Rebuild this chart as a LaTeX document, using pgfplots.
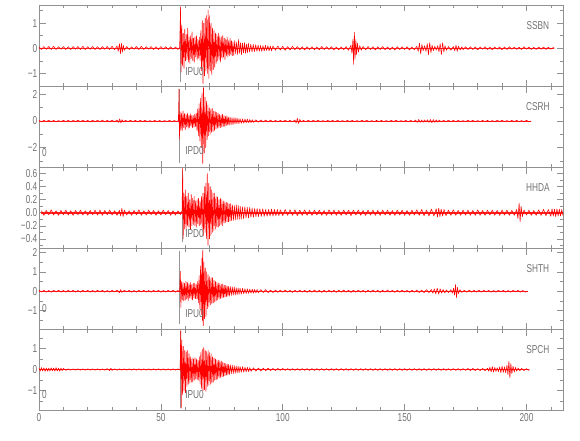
\documentclass[border=0pt]{standalone}
\usepackage{fontspec}
\setmainfont[FakeStretch=0.72]{Liberation Sans}
\usepackage{pgfplots}
\pgfplotsset{compat=1.18}
\definecolor{txt}{RGB}{115,115,115}
\definecolor{axc}{RGB}{145,145,145}
\definecolor{pick}{RGB}{150,150,150}
\newcommand{\lab}{\fontsize{11.5}{12}\selectfont}
\tikzset{
 stn/.style={font=\lab, text=txt},
 ph/.style={font=\lab, text=txt, anchor=west, inner sep=0pt},
}
\pgfplotsset{
 seis/.style={
  scale only axis, width=524pt, height=81pt,
  xmin=0, xmax=215,
  axis line style={axc, line width=0.5pt},
  tick style={axc, line width=0.5pt},
  major tick length=6.5pt, minor tick length=3.5pt,
  tick align=inside,
  xtick pos=both, ytick pos=both,
  xtick={0,50,100,150,200},
  minor xtick={10,20,30,40,60,70,80,90,110,120,130,140,160,170,180,190,210},
  xticklabels={},
  ticklabel style={font=\lab, text=txt},
  yticklabel style={inner sep=1.5pt},
  anchor=south west,
  clip=true,
 },
 trace/.style={red, line width=0.55pt, mark=none, line join=round},
 base/.style={red!85, line width=1.3pt, mark=none},
 pk/.style={pick, line width=0.6pt, mark=none},
}
\begin{document}
\begin{tikzpicture}
% ---------------- SSBN ----------------
\begin{axis}[seis, at={(0pt,324pt)}, ymin=-1.50, ymax=1.72,
  ytick={-1,0,1}, yticklabels={−1,0,1}, minor ytick={-1.5,-0.5,0.5,1.5}]
\addplot[pk] coordinates {(57.9,-1.36)(57.9,1.65)};
\addplot[base] coordinates {(0,0)(211.5,0)};
\addplot[trace] coordinates {(0,.06)(1,-.05)(2,.07)(3,-.04)(4,.07)(5,-.05)(6,.08)(7,-.05)(8,.06)(9,-.04)(10,.07)(11,-.05)(12,.06)(13,-.05)(14,.07)(15,-.04)(16,.07)(17,-.05)(18,.08)(19,-.05)(20,.06)(21,-.04)(22,.07)(23,-.05)(24,.06)(25,-.05)(26,.07)(27,-.04)(28,.07)(29,-.05)(30,.08)(31,-.06)(32,.09)
(32.5,-.12)(33,.18)(33.4,-.22)(33.8,.2)(34.2,-.16)(34.6,.12)(35,-.08)
(36,.07)(37,-.05)(38,.06)(39,-.04)(40,.07)(41,-.05)(42,.08)(43,-.05)(44,.06)(45,-.04)(46,.07)(47,-.05)(48,.06)(49,-.05)(50,.07)(51,-.04)(52,.06)(53,-.05)(54,.06)(55,-.04)(56,.05)(57,-.05)(57.7,.04)
(58.1,1.65)(58.3,-.95)(58.6,.9)(58.9,-.7)(59.2,.6)(59.5,-.8)(59.8,.75)(60.1,-.5)(60.4,.55)(60.7,-.45)(61,.8)(61.3,-.55)(61.6,.45)(61.9,-.6)(62.2,.5)(62.5,-.4)(62.8,.65)(63.1,-.5)(63.4,.4)(63.7,-.55)(64,.45)(64.3,-.35)(64.6,.5)(64.9,-.45)(65.2,.35)(65.5,-.4)(65.8,.45)(66.1,-.5)(66.4,.7)(66.7,-.9)(67,1.1)(67.3,-1.4)(67.6,1.0)(67.9,-1.1)(68.2,1.2)(68.5,-.9)(68.8,1.3)(69.1,-1.0)(69.4,1.52)(69.7,-1.2)(70,1.3)(70.3,-.9)(70.6,1.0)(70.9,-1.05)(71.2,.8)(71.5,-.85)(71.8,.7)(72.1,-.75)(72.4,.6)(72.7,-.6)(73,.55)(73.3,-.5)(73.6,.6)(73.9,-.45)(74.2,.5)(74.5,-.55)(74.8,.45)(75.1,-.4)(75.4,.5)(75.7,-.35)(76,.4)(76.3,-.45)(76.6,.35)(76.9,-.3)(77.2,.45)(77.5,-.35)(77.8,.3)(78.1,-.3)(78.4,.4)(78.7,-.25)(79,.3)(79.3,-.3)(79.6,.25)(79.9,-.28)(80.3,.3)(80.7,-.22)(81.1,.25)(81.5,-.25)(81.9,.35)(82.3,-.2)(82.7,.22)(83.1,-.25)(83.5,.2)(83.9,-.18)(84.3,.22)(84.7,-.2)(85.1,.17)(85.5,-.18)(85.9,.2)(86.4,-.15)(86.9,.16)(87.4,-.14)(87.9,.15)(88.4,-.13)(88.9,.14)(89.4,-.12)(89.9,.13)(90.4,-.12)(90.9,.11)(91.4,-.12)(91.9,.1)(92.4,-.11)(92.9,.12)(93.4,-.09)(93.9,.1)(94.4,-.1)(94.9,.09)(95.4,-.1)
(96,.09)(97,-.08)(98,.09)(99,-.07)(100,.08)(101,-.08)(102,.07)(103,-.07)(104,.08)(105,-.06)(106,.07)(107,-.06)(108,.06)(109,-.07)(110,.06)(111,-.05)(112,.06)(113,-.06)(114,.05)(115,-.06)(116,.07)(117,-.05)(118,.06)(119,-.05)(120,.06)(121,-.07)(122,.05)(123,-.06)(124,.05)(125,-.06)(126,.07)(127,-.08)(128,.12)(128.4,-.2)(128.8,.35)(129.1,-.64)(129.4,.64)(129.7,-.4)(130,.35)(130.3,-.25)(130.7,.2)(131.1,-.15)(131.6,.1)(132.2,-.08)
(133,.07)(134,-.06)(135,.07)(136,-.05)(137,.06)(138,-.07)(139,.06)(140,-.05)(141,.07)(142,-.06)(143,.05)(144,-.06)(145,.05)(146,-.07)(147,.06)(148,-.05)(149,.06)(150,-.05)(151,.06)(152,-.07)(153,.05)(154,-.06)(155,.08)(155.6,-.12)(156.1,.2)(156.6,-.22)(157.1,.15)(157.6,-.1)(158.2,.1)(158.8,-.12)(159.3,.18)(159.8,-.25)(160.3,.22)(160.8,-.18)(161.3,.12)(161.8,-.1)(162.4,.08)(163,-.07)(163.6,.1)(164.1,-.14)(164.6,.18)(165.1,-.25)(165.6,.22)(166.1,-.15)(166.6,.1)(167.2,-.08)(168,.07)(169,-.08)(170,.07)(170.6,-.1)(171.1,.12)(171.6,-.12)(172.1,.09)(172.8,-.07)(173.5,.06)
(174,-.06)(175,.06)(176,-.05)(177,.06)(178,-.05)(179,.05)(180,-.06)(181,.05)(182,-.04)(183,.06)(184,-.05)(185,.05)(186,-.06)(187,.05)(188,-.04)(189,.05)(190,-.06)(191,.05)(192,-.05)(193,.06)(194,-.04)(195,.05)(196,-.05)(197,.04)(198,-.05)(199,.06)(200,-.04)(201,.05)(202,-.05)(203,.04)(204,-.05)(205,.05)(206,-.04)(207,.05)(208,-.05)(209,.04)(210,-.04)(211,.03)(211.5,0)};
\node[stn] at (rel axis cs:0.952,0.75) {SSBN};
\node[ph] at (rel axis cs:0.279,0.18) {IPU0};
\end{axis}
% ---------------- CSRH ----------------
\begin{axis}[seis, at={(0pt,243pt)}, ymin=-3.45, ymax=2.63,
  ytick={-2,0,2}, yticklabels={−2,0,2}, minor ytick={-3,-1,1}]
\addplot[pk] coordinates {(57.4,-3.18)(57.4,2.4)};
\addplot[base, line width=1.0pt] coordinates {(0,0)(202,0)};
\addplot[trace] coordinates {(0,.05)(1,-.06)(2,.05)(3,-.04)(4,.06)(5,-.05)(6,.05)(7,-.06)(8,.04)(9,-.05)(10,.06)(11,-.04)(12,.05)(13,-.06)(14,.05)(15,-.04)(16,.06)(17,-.05)(18,.07)(19,-.06)(20,.05)(21,-.07)(22,.06)(23,-.05)(24,.06)(25,-.05)(26,.07)(27,-.06)(28,.05)(29,-.06)(30,.07)(31,-.06)(32,.08)(32.6,-.1)(33.1,.16)(33.6,-.14)(34.1,.1)(34.7,-.07)(35.5,.06)(36.5,-.05)(37.5,.06)(38.5,-.05)(39.5,.05)(40.5,-.06)(41.5,.05)(42.5,-.04)(43.5,.05)(44.5,-.05)(45.5,.04)(46.5,-.05)(47.5,.05)(48.5,-.04)(49.5,.05)(50.5,-.05)(51.5,.04)(52.5,-.04)(53.5,.05)(54.5,-.04)(55.5,.04)(56.5,-.04)(57.2,.03)
(57.45,2.4)(57.6,-1.35)(57.9,.7)(58.2,-.75)(58.5,.6)(58.8,-.7)(59.1,.75)(59.4,-.5)(59.7,.55)(60,-.65)(60.3,.5)(60.6,-.45)(60.9,.6)(61.2,-.55)(61.5,.45)(61.8,-.5)(62.1,.55)(62.4,-.4)(62.7,.45)(63,-.5)(63.3,.4)(63.6,-.45)(63.9,.5)(64.2,-.4)(64.5,.6)(64.8,-.7)(65.1,.9)(65.4,-1.1)(65.7,1.3)(66,-1.5)(66.3,1.7)(66.6,-2.0)(66.9,2.1)(67.2,-3.2)(67.5,2.5)(67.8,-2.4)(68.1,1.8)(68.4,-2.0)(68.7,1.5)(69,-1.4)(69.3,1.2)(69.6,-1.1)(69.9,1.0)(70.2,-1.0)(70.5,.9)(70.8,-.85)(71.1,.95)(71.4,-.8)(71.7,.75)(72,-.7)(72.3,.7)(72.6,-.6)(72.9,.65)(73.2,-.55)(73.5,.6)(73.8,-.5)(74.1,.5)(74.4,-.5)(74.7,.45)(75,-.45)(75.3,.5)(75.6,-.4)(75.9,.4)(76.2,-.4)(76.5,.35)(76.8,-.35)(77.1,.4)(77.4,-.3)(77.7,.3)(78,-.32)(78.4,.3)(78.8,-.28)(79.2,.25)(79.6,-.27)(80,.25)(80.4,-.22)(80.8,.24)(81.2,-.2)(81.6,.2)(82,-.2)(82.5,.18)(83,-.17)(83.5,.16)(84,-.15)(84.5,.15)(85,-.13)(85.5,.14)(86,-.12)(86.5,.12)(87,-.12)(87.5,.1)(88,-.1)(89,.09)(90,-.08)(91,.08)(92,-.07)(93,.07)(94,-.06)(95,.07)(96,-.06)(97,.05)(98,-.06)(99,.05)(100,-.05)(101,.06)(102,-.05)(103,.05)(104,-.06)(105,.08)(105.5,-.15)(106,.2)(106.5,-.18)(107,.12)(107.6,-.07)
(108.5,.05)(109.5,-.05)(110.5,.06)(111.5,-.05)(112.5,.05)(113.5,-.04)(114.5,.05)(115.5,-.05)(116.5,.04)(117.5,-.05)(118.5,.05)(119.5,-.04)(120.5,.05)(121.5,-.05)(122.5,.06)(123.5,-.05)(124.5,.04)(125.5,-.05)(126.5,.05)(127.5,-.04)(128.5,.05)(129.5,-.05)(130.5,.04)(131.5,-.05)(132.5,.05)(133.5,-.04)(134.5,.05)(135.5,-.05)(136.5,.04)(137.5,-.05)(138.5,.05)(139.5,-.04)(140.5,.05)(141.5,-.05)(142.5,.04)(143.5,-.05)(144.5,.05)(145.5,-.04)(146.5,.05)(147.5,-.05)(148.5,.04)(149.5,-.05)(150.5,.05)(151.5,-.06)(152.5,.05)(153.5,-.06)(154.5,.07)(155.2,-.1)(155.8,.12)(156.4,-.1)(157,.08)(157.6,-.09)(158.2,.08)(158.8,-.07)(159.4,.09)(160,-.1)(160.6,.12)(161.2,-.13)(161.8,.11)(162.4,-.1)(163,.09)(163.6,-.08)(164.2,.07)
(165,-.06)(166,.05)(167,-.05)(168,.06)(169,-.05)(170,.05)(171,-.04)(172,.05)(173,-.05)(174,.04)(175,-.05)(176,.05)(177,-.04)(178,.05)(179,-.05)(180,.04)(181,-.05)(182,.05)(183,-.04)(184,.05)(185,-.05)(186,.04)(187,-.05)(188,.05)(189,-.04)(190,.05)(191,-.05)(192,.04)(193,-.05)(194,.05)(195,-.04)(196,.05)(197,-.05)(198,.04)(199,-.05)(200,.05)(201,-.04)(202,0)};
\node[stn] at (rel axis cs:0.952,0.75) {CSRH};
\node[ph] at (rel axis cs:0.279,0.20) {IPD0};
\node[stn, inner sep=0pt] at (rel axis cs:0.0105,0.18) {0};
\end{axis}
% ---------------- HHDA ----------------
\begin{axis}[seis, at={(0pt,162pt)}, ymin=-0.54, ymax=0.70,
  ytick={-0.4,-0.2,0,0.2,0.4,0.6}, yticklabels={−0.4,−0.2,0.0,0.2,0.4,0.6},
  minor ytick={-0.5,-0.3,-0.1,0.1,0.3,0.5}]
\addplot[pk] coordinates {(58.9,-0.45)(58.9,0.66)};
\addplot[base, line width=1.8pt] coordinates {(1,0)(215,0)};
\addplot[trace] coordinates {(1,.03)(2,-.04)(3,.035)(4,-.03)(5,.045)(6,-.035)(7,.03)(8,-.04)(9,.035)(10,-.03)(11,.04)(12,-.035)(13,.03)(14,-.04)(15,.035)(16,-.03)(17,.04)(18,-.035)(19,.03)(20,-.04)(21,.035)(22,-.03)(23,.04)(24,-.035)(25,.04)(26,-.04)(27,.035)(28,-.03)(29,.04)(30,-.035)(31,.03)(32,-.04)(33,.035)(33.5,-.05)(34,.07)(34.5,-.06)(35,.04)(36,-.035)(37,.03)(38,-.04)(39,.035)(40,-.03)(41,.045)(42,-.04)(43,.03)(44,-.035)(45,.04)(46,-.03)(47,.035)(48,-.04)(49,.03)(50,-.035)(51,.04)(52,-.03)(53,.035)(54,-.04)(55,.03)(56,-.035)(57,.03)(58,-.03)(58.7,.03)
(58.95,.68)(59.15,-.4)(59.45,.3)(59.75,-.25)(60.05,.35)(60.35,-.27)(60.65,.25)(60.95,-.2)(61.25,.3)(61.55,-.22)(61.85,.2)(62.15,-.25)(62.45,.28)(62.75,-.2)(63.05,.22)(63.35,-.18)(63.65,.25)(63.95,-.2)(64.25,.18)(64.55,-.22)(64.85,.2)(65.15,-.17)(65.45,.22)(65.75,-.2)(66.05,.18)(66.35,-.18)(66.65,.25)(66.95,-.25)(67.25,.3)(67.55,-.35)(67.85,.4)(68.15,-.3)(68.45,.45)(68.75,-.4)(69.05,.6)(69.35,-.5)(69.65,.45)(69.95,-.4)(70.25,.4)(70.55,-.35)(70.85,.35)(71.15,-.3)(71.45,.3)(71.75,-.28)(72.05,.3)(72.35,-.25)(72.65,.25)(72.95,-.22)(73.25,.24)(73.55,-.22)(73.85,.2)(74.15,-.2)(74.45,.22)(74.75,-.18)(75.05,.2)(75.35,-.2)(75.65,.18)(75.95,-.16)(76.25,.17)(76.55,-.15)(76.85,.16)(77.15,-.14)(77.45,.15)(77.75,-.14)(78.05,.13)(78.35,-.13)(78.65,.14)(78.95,-.12)(79.35,.12)(79.75,-.12)(80.15,.11)(80.55,-.11)(80.95,.12)(81.35,-.1)(81.75,.11)(82.15,-.1)(82.55,.1)(82.95,-.1)(83.45,.09)(83.95,-.09)(84.45,.09)(84.95,-.08)(85.45,.08)(85.95,-.08)(86.45,.08)(86.95,-.07)(87.45,.07)(87.95,-.07)(88.5,.065)(89,-.06)(89.5,.065)(90,-.06)(90.6,.06)(91.2,-.055)(91.8,.06)(92.4,-.055)(93,.05)(93.6,-.055)(94.2,.05)(94.8,-.05)(95.4,.055)(96,-.05)(96.6,.05)(97.2,-.045)(97.8,.05)(98.4,-.045)(99,.045)
(100,-.045)(101,.05)(102,-.04)(103,.045)(104,-.04)(105,.045)(106,-.045)(107,.04)(108,-.04)(109,.045)(110,-.04)(111,.035)(112,-.04)(113,.04)(114,-.035)(115,.04)(116,-.04)(117,.035)(118,-.04)(119,.045)(120,-.035)(121,.04)(122,-.04)(123,.035)(124,-.04)(125,.04)(126,-.035)(127,.04)(128,-.045)(129,.04)(130,-.035)(131,.04)(132,-.04)(133,.035)(134,-.04)(135,.04)(136,-.035)(137,.04)(138,-.04)(139,.035)(140,-.04)(141,.04)(142,-.035)(143,.04)(144,-.04)(145,.035)(146,-.04)(147,.04)(148,-.035)(149,.04)(150,-.04)(151,.035)(152,-.04)(153,.04)(154,-.035)(155,.045)(156,-.04)(157,.05)(158,-.045)(159,.04)(160,-.05)(161,.055)(162,-.05)(163,.06)(163.5,-.065)(164,.07)(164.5,-.06)(165,.055)(165.6,-.05)(166.2,.05)
(167,-.045)(168,.04)(169,-.04)(170,.045)(171,-.04)(172,.035)(173,-.04)(174,.04)(175,-.035)(176,.04)(177,-.04)(178,.035)(179,-.04)(180,.045)(181,-.04)(182,.035)(183,-.04)(184,.04)(185,-.035)(186,.04)(187,-.04)(188,.035)(189,-.04)(190,.04)(191,-.035)(192,.04)(193,-.04)(194,.035)(195,-.04)(196,.05)(196.5,-.09)(197,.15)(197.4,-.14)(197.8,.1)(198.3,-.06)(199,.04)(200,-.035)(201,.04)(202,-.04)(203,.035)(204,-.04)(205,.045)(206,-.04)(207,.05)(208,-.045)(209,.05)(210,-.055)(210.5,.06)(211,-.05)(211.5,.055)(212,-.06)(212.5,.06)(213,-.05)(213.5,.055)(214,-.05)(214.5,.05)(215,-.045)};
\node[stn] at (rel axis cs:0.952,0.75) {HHDA};
\node[ph] at (rel axis cs:0.279,0.18) {IPD0};
\end{axis}
% ---------------- SHTH ----------------
\begin{axis}[seis, at={(0pt,81pt)}, ymin=-1.94, ymax=2.22,
  ytick={-1,0,1,2}, yticklabels={−1,0,1,2}, minor ytick={-1.5,-0.5,0.5,1.5}]
\addplot[pk] coordinates {(57.5,-1.68)(57.5,2.05)};
\addplot[base, line width=1.1pt] coordinates {(0,0)(200.5,0)};
\addplot[trace] coordinates {(0,.05)(1,-.04)(2,.05)(3,-.05)(4,.04)(5,-.05)(6,.05)(7,-.04)(8,.05)(9,-.05)(10,.04)(11,-.05)(12,.05)(13,-.04)(14,.05)(15,-.05)(16,.04)(17,-.05)(18,.05)(19,-.04)(20,.05)(21,-.05)(22,.04)(23,-.05)(24,.05)(25,-.04)(26,.05)(27,-.05)(28,.04)(29,-.05)(30,.05)(31,-.04)(32,.06)(33,-.07)(33.5,.08)(34,-.06)(35,.05)(36,-.04)(37,.05)(38,-.05)(39,.04)(40,-.05)(41,.05)(42,-.04)(43,.05)(44,-.05)(45,.04)(46,-.05)(47,.05)(48,-.04)(49,.05)(50,-.05)(51,.04)(52,-.05)(53,.05)(54,-.04)(55,.05)(56,-.05)(57,.04)(57.7,-.04)
(58,1.03)(58.2,-.83)(58.5,.5)(58.8,-.45)(59.1,.45)(59.4,-.5)(59.7,.4)(60,-.45)(60.3,.5)(60.6,-.4)(60.9,.45)(61.2,-.5)(61.5,.4)(61.8,-.35)(62.1,.45)(62.4,-.4)(62.7,.35)(63,-.45)(63.3,.4)(63.6,-.35)(63.9,.4)(64.2,-.38)(64.5,.35)(64.8,-.4)(65.1,.5)(65.4,-.6)(65.7,.8)(66,-.9)(66.3,1.3)(66.6,-1.2)(66.85,1.7)(67.05,-1.5)(67.2,2.13)(67.4,-1.76)(67.65,1.5)(67.9,-1.4)(68.2,1.2)(68.5,-1.3)(68.8,1.0)(69.1,-.9)(69.4,.85)(69.7,-.8)(70,.75)(70.3,-.7)(70.6,.7)(70.9,-.65)(71.2,.7)(71.5,-.6)(71.8,.55)(72.1,-.55)(72.4,.5)(72.7,-.5)(73,.45)(73.3,-.45)(73.6,.42)(73.9,-.4)(74.2,.4)(74.5,-.38)(74.8,.35)(75.1,-.35)(75.4,.38)(75.7,-.32)(76,.3)(76.3,-.3)(76.6,.3)(76.9,-.28)(77.2,.27)(77.5,-.26)(77.8,.25)(78.1,-.25)(78.5,.24)(78.9,-.22)(79.3,.22)(79.7,-.2)(80.1,.22)(80.5,-.2)(80.9,.18)(81.3,-.18)(81.7,.17)(82.1,-.16)(82.5,.16)(83,-.15)(83.5,.14)(84,-.13)(84.5,.13)(85,-.12)(85.5,.12)(86,-.11)(86.5,.11)(87,-.1)(87.5,.1)(88,-.1)(88.5,.09)(89,-.09)(89.5,.09)
(90,-.08)(91,.08)(92,-.07)(93,.08)(94,-.07)(95,.06)(96,-.07)(97,.06)(98,-.06)(99,.06)(100,-.05)(101,.06)(102,-.05)(103,.05)(104,-.06)(105,.05)(106,-.05)(107,.06)(108,-.05)(109,.05)(110,-.06)(111,.05)(112,-.05)(113,.06)(114,-.05)(115,.05)(116,-.06)(117,.05)(118,-.05)(119,.06)(120,-.05)(121,.05)(122,-.06)(123,.05)(124,-.05)(125,.06)(126,-.05)(127,.05)(128,-.06)(129,.05)(130,-.05)(131,.06)(132,-.05)(133,.05)(134,-.06)(135,.05)(136,-.05)(137,.06)(138,-.05)(139,.05)(140,-.06)(141,.05)(142,-.05)(143,.06)(144,-.05)(145,.05)(146,-.06)(147,.05)(148,-.05)(149,.06)(150,-.05)(151,.05)(152,-.06)(153,.06)(154,-.05)(155,.06)(156,-.07)(157,.06)(158,-.07)(159,.08)(160,-.07)(161,.09)(161.6,-.1)(162.2,.12)(162.8,-.14)(163.4,.16)(164,-.15)(164.6,.12)(165.2,-.1)(165.8,.09)(166.5,-.08)(167.2,.07)(168,-.07)(169,.08)(169.6,-.1)(170.1,.15)(170.5,-.2)(170.9,.34)(171.3,-.32)(171.7,.2)(172.1,-.12)(172.7,.08)(173.5,-.06)
(174.5,.05)(175.5,-.05)(176.5,.06)(177.5,-.05)(178.5,.05)(179.5,-.05)(180.5,.06)(181.5,-.05)(182.5,.05)(183.5,-.04)(184.5,.05)(185.5,-.05)(186.5,.04)(187.5,-.05)(188.5,.05)(189.5,-.04)(190.5,.05)(191.5,-.05)(192.5,.04)(193.5,-.05)(194.5,.05)(195.5,-.04)(196.5,.05)(197.5,-.05)(198.5,.04)(199.5,-.05)(200.5,0)};
\node[stn] at (rel axis cs:0.952,0.75) {SHTH};
\node[ph] at (rel axis cs:0.279,0.19) {IPU0};
\node[stn, inner sep=0pt] at (rel axis cs:0.0105,0.25) {0};
\end{axis}
% ---------------- SPCH ----------------
\begin{axis}[seis, at={(0pt,0pt)}, ymin=-1.92, ymax=1.92,
  ytick={-1,0,1}, yticklabels={−1,0,1}, minor ytick={-1.5,-0.5,0.5,1.5},
  xticklabels={0,50,100,150,200}]
\addplot[pk] coordinates {(57.9,-1.84)(57.9,1.84)};
\addplot[base, line width=1.0pt] coordinates {(0,0)(201.2,0)};
\addplot[trace] coordinates {(0,.07)(.5,-.08)(1,.09)(1.5,-.07)(2,.08)(2.5,-.09)(3,.07)(3.5,-.08)(4,.06)(4.5,-.07)(5,.08)(5.5,-.06)(6,.07)(6.5,-.08)(7,.09)(7.5,-.07)(8,.06)(8.5,-.08)(9,.07)(9.5,-.06)(10,.05)(11,-.04)(12,.03)(13,-.03)(14,.03)(15,-.03)(16,.03)(17,-.03)(18,.03)(19,-.03)(20,.03)(21,-.03)(22,.03)(23,-.03)(24,.03)(25,-.03)(26,.03)(27,-.03)(28,.04)(29,-.05)(29.5,.06)(30,-.04)(31,.03)(32,-.03)(33,.03)(34,-.03)(35,.03)(36,-.03)(37,.03)(38,-.03)(39,.03)(40,-.03)(41,.03)(42,-.03)(43,.03)(44,-.03)(45,.03)(46,-.03)(47,.03)(48,-.03)(49,.03)(50,-.03)(51,.03)(52,-.03)(53,.03)(54,-.03)(55,.03)(56,-.03)(57,.03)(57.9,-.03)
(58.15,1.84)(58.35,-1.84)(58.6,1.4)(58.9,-1.2)(59.2,1.1)(59.5,-1.0)(59.8,.9)(60.1,-1.1)(60.4,.85)(60.7,-.8)(61,.9)(61.3,-.7)(61.6,.75)(61.9,-.65)(62.2,.6)(62.5,-.6)(62.8,.55)(63.1,-.6)(63.4,.5)(63.7,-.5)(64,.55)(64.3,-.45)(64.6,.5)(64.9,-.5)(65.2,.45)(65.5,-.5)(65.8,.6)(66.1,-.7)(66.4,.8)(66.7,-.9)(67,.95)(67.3,-1.0)(67.6,1.04)(67.9,-.95)(68.2,.9)(68.5,-1.04)(68.8,.85)(69.1,-.8)(69.4,.9)(69.7,-.75)(70,.8)(70.3,-.7)(70.6,.75)(70.9,-.65)(71.2,.6)(71.5,-.6)(71.8,.55)(72.1,-.5)(72.4,.5)(72.7,-.5)(73,.45)(73.3,-.45)(73.6,.45)(73.9,-.4)(74.2,.42)(74.5,-.38)(74.8,.4)(75.1,-.35)(75.4,.35)(75.7,-.32)(76,.3)(76.3,-.3)(76.6,.28)(76.9,-.27)(77.2,.26)(77.5,-.25)(77.8,.25)(78.1,-.24)(78.5,.22)(78.9,-.2)(79.3,.2)(79.7,-.19)(80.1,.18)(80.5,-.18)(80.9,.17)(81.3,-.16)(81.7,.15)(82.1,-.15)(82.5,.14)(83,-.13)(83.5,.13)(84,-.12)(84.5,.11)(85,-.11)(85.5,.1)(86,-.1)(86.5,.09)(87,-.09)
(88,.08)(89,-.08)(90,.07)(91,-.07)(92,.06)(93,-.06)(94,.06)(95,-.05)(96,.05)(97,-.05)(98,.05)(99,-.04)(100,.05)(101,-.04)(102,.04)(103,-.04)(104,.04)(105,-.04)(106,.04)(107,-.04)(108,.04)(109,-.04)(110,.04)(111,-.04)(112,.04)(113,-.04)(114,.04)(115,-.04)(116,.04)(117,-.04)(118,.04)(119,-.04)(120,.04)(121,-.04)(122,.04)(123,-.04)(124,.04)(125,-.04)(126,.04)(127,-.04)(128,.04)(129,-.04)(130,.04)(131,-.04)(132,.04)(133,-.04)(134,.04)(135,-.04)(136,.04)(137,-.04)(138,.04)(139,-.04)(140,.04)(141,-.04)(142,.04)(143,-.04)(144,.04)(145,-.04)(146,.04)(147,-.04)(148,.04)(149,-.04)(150,.04)(151,-.04)(152,.04)(153,-.04)(154,.04)(155,-.04)(156,.04)(157,-.04)(158,.04)(159,-.04)(160,.04)(161,-.04)(162,.04)(163,-.04)(164,.04)(165,-.04)(166,.04)(167,-.04)(168,.04)(169,-.04)(170,.04)(171,-.04)(172,.04)(173,-.04)(174,.04)(175,-.04)(176,.05)(177,-.05)(178,.05)(179,-.05)(180,.04)(181,-.05)(182,.05)(183,-.06)(184,.06)
(184.5,-.08)(185,.1)(185.5,-.12)(186,.14)(186.5,-.12)(187,.1)(187.5,-.09)(188,.08)(188.5,-.1)(189,.12)(189.5,-.15)(190,.16)(190.5,-.14)(191,.12)(191.5,-.15)(192,.2)(192.4,-.25)(192.8,.4)(193.2,-.4)(193.6,.28)(194,-.2)(194.5,.15)(195,-.12)(195.5,.1)(196,-.08)(196.6,.07)(197.3,-.06)(198,.05)(199,-.05)(200,.04)(201,-.04)(201.2,0)};
\node[stn] at (rel axis cs:0.952,0.75) {SPCH};
\node[ph] at (rel axis cs:0.279,0.185) {IPU0};
\node[stn, inner sep=0pt] at (rel axis cs:0.0105,0.185) {0};
\end{axis}
\pgfresetboundingbox
\path[use as bounding box] (-39pt,-30pt) rectangle (541pt,410pt);
\end{tikzpicture}
\end{document}
